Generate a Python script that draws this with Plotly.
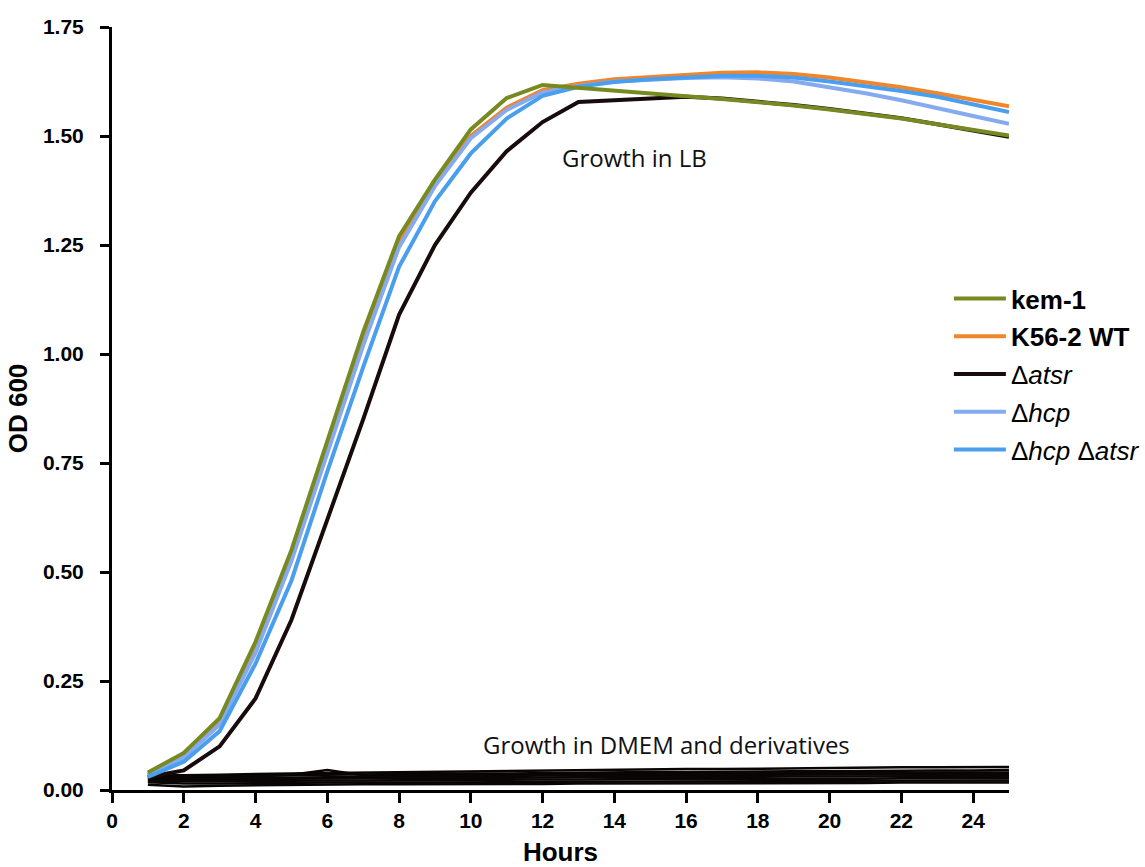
import plotly.graph_objects as go

hours = list(range(1, 26))

kem1 = [0.040, 0.085, 0.165, 0.340, 0.550, 0.800, 1.050, 1.270, 1.400, 1.515, 1.587, 1.617, 1.610, 1.603, 1.597,
        1.591, 1.585, 1.578, 1.570, 1.561, 1.551, 1.540, 1.527, 1.514, 1.501]
k56_wt = [0.035, 0.075, 0.155, 0.320, 0.530, 0.780, 1.030, 1.255, 1.390, 1.500, 1.565, 1.605, 1.620, 1.630, 1.635,
          1.640, 1.645, 1.646, 1.642, 1.634, 1.624, 1.612, 1.598, 1.584, 1.568]
datsr = [0.030, 0.045, 0.100, 0.210, 0.390, 0.620, 0.850, 1.090, 1.250, 1.370, 1.465, 1.532, 1.578, 1.582, 1.586,
         1.590, 1.586, 1.579, 1.571, 1.562, 1.552, 1.541, 1.527, 1.512, 1.498]
dhcp = [0.035, 0.075, 0.150, 0.315, 0.525, 0.775, 1.020, 1.245, 1.385, 1.495, 1.560, 1.600, 1.615, 1.625, 1.630,
        1.633, 1.635, 1.632, 1.625, 1.612, 1.598, 1.582, 1.565, 1.546, 1.528]
dhcp_datsr = [0.030, 0.065, 0.135, 0.290, 0.480, 0.730, 0.970, 1.200, 1.350, 1.460, 1.540, 1.592, 1.613, 1.624, 1.630,
              1.635, 1.638, 1.638, 1.634, 1.625, 1.615, 1.603, 1.590, 1.572, 1.555]

dmem = [
    [0.035, 0.034, 0.035, 0.037, 0.038, 0.039, 0.040, 0.041, 0.042, 0.043, 0.044, 0.045, 0.046, 0.046, 0.047,
     0.048, 0.048, 0.049, 0.050, 0.050, 0.051, 0.052, 0.052, 0.053, 0.053],
    [0.032, 0.030, 0.031, 0.033, 0.034, 0.035, 0.036, 0.036, 0.037, 0.038, 0.038, 0.039, 0.040, 0.040, 0.041,
     0.041, 0.042, 0.042, 0.043, 0.043, 0.044, 0.044, 0.045, 0.045, 0.046],
    [0.030, 0.028, 0.029, 0.031, 0.035, 0.046, 0.034, 0.034, 0.035, 0.035, 0.036, 0.036, 0.036, 0.037, 0.037,
     0.037, 0.038, 0.038, 0.038, 0.039, 0.039, 0.039, 0.040, 0.040, 0.040],
    [0.028, 0.026, 0.027, 0.028, 0.029, 0.030, 0.030, 0.031, 0.031, 0.032, 0.032, 0.033, 0.033, 0.033, 0.034,
     0.034, 0.034, 0.035, 0.035, 0.035, 0.036, 0.036, 0.036, 0.037, 0.037],
    [0.025, 0.024, 0.024, 0.025, 0.026, 0.026, 0.027, 0.027, 0.028, 0.028, 0.028, 0.029, 0.029, 0.029, 0.030,
     0.030, 0.030, 0.031, 0.031, 0.031, 0.031, 0.032, 0.032, 0.032, 0.032],
    [0.022, 0.020, 0.020, 0.021, 0.021, 0.022, 0.022, 0.023, 0.023, 0.023, 0.024, 0.024, 0.024, 0.025, 0.025,
     0.025, 0.025, 0.026, 0.026, 0.026, 0.026, 0.027, 0.027, 0.027, 0.027],
    [0.018, 0.015, 0.015, 0.016, 0.016, 0.017, 0.017, 0.017, 0.018, 0.018, 0.018, 0.019, 0.019, 0.019, 0.019,
     0.020, 0.020, 0.020, 0.020, 0.021, 0.021, 0.021, 0.021, 0.022, 0.022],
    [0.012, 0.008, 0.010, 0.011, 0.012, 0.012, 0.013, 0.013, 0.013, 0.014, 0.014, 0.014, 0.015, 0.015, 0.015,
     0.015, 0.016, 0.016, 0.016, 0.016, 0.016, 0.017, 0.017, 0.017, 0.017],
]

x_ticks = list(range(0, 25, 2))
y_ticks = [0, 0.25, 0.5, 0.75, 1.0, 1.25, 1.5, 1.75]

fig = go.Figure()

for d in dmem:
    fig.add_trace(go.Scatter(x=hours, y=d, mode="lines", showlegend=False,
                             line=dict(color="#0a0505", width=2.5), hoverinfo="skip"))

# LB series: (name, data, color, legend rank)
lb = [
    ("<b>K56-2 WT</b>", k56_wt, "#f0852a", 2),
    ("\u0394<i>atsr</i>", datsr, "#170b0b", 3),
    ("\u0394<i>hcp</i>", dhcp, "#86aaf0", 4),
    ("\u0394<i>hcp</i> \u0394<i>atsr</i>", dhcp_datsr, "#4a9eee", 5),
    ("<b>kem-1</b>", kem1, "#778a22", 1),
]
for name, data, col, rank in lb:
    fig.add_trace(go.Scatter(x=hours, y=data, mode="lines", name=name, legendrank=rank,
                             legendgroup=str(rank), line=dict(color=col, width=4)))

tick_font = dict(family="Liberation Sans, Arial", size=21, color="black", weight="bold")
fig.update_layout(
    width=1145, height=867,
    paper_bgcolor="white", plot_bgcolor="white",
    margin=dict(l=112, r=136, t=27, b=77, autoexpand=False),
    font=dict(family="Liberation Sans, Arial", color="black"),
    xaxis=dict(range=[0, 25], tickvals=x_ticks, ticktext=[str(v) for v in x_ticks],
               showgrid=False, zeroline=False, showline=True, linecolor="black", linewidth=3,
               ticks="outside", ticklen=10, tickwidth=3, tickcolor="black",
               tickfont=tick_font,
               title=dict(text="<b>Hours</b>", font=dict(size=26), standoff=12)),
    yaxis=dict(range=[0, 1.75], tickvals=y_ticks, ticktext=["%.2f" % v for v in y_ticks],
               showgrid=False, zeroline=False, showline=True, linecolor="black", linewidth=3,
               ticks="outside", ticklen=9, tickwidth=3, tickcolor="black",
               tickfont=tick_font,
               ticklabelstandoff=12,
               title=dict(text="<b>OD 600</b>", font=dict(size=26), standoff=8)),
    legend=dict(x=0.933, y=0.675, xanchor="left", yanchor="top", bgcolor="rgba(0,0,0,0)",
                traceorder="grouped", tracegroupgap=1, itemwidth=52,
                font=dict(family="Liberation Sans, Arial", size=26, color="black")),
    annotations=[
        dict(text="Growth in LB", x=14.55, y=1.45, xref="x", yref="y", showarrow=False,
             font=dict(family="Open Sans", size=24, color="#111")),
        dict(text="Growth in DMEM and derivatives", x=15.45, y=0.105, xref="x", yref="y", showarrow=False,
             font=dict(family="Open Sans", size=24, color="#111")),
    ],
)

fig.write_html("out.html")
